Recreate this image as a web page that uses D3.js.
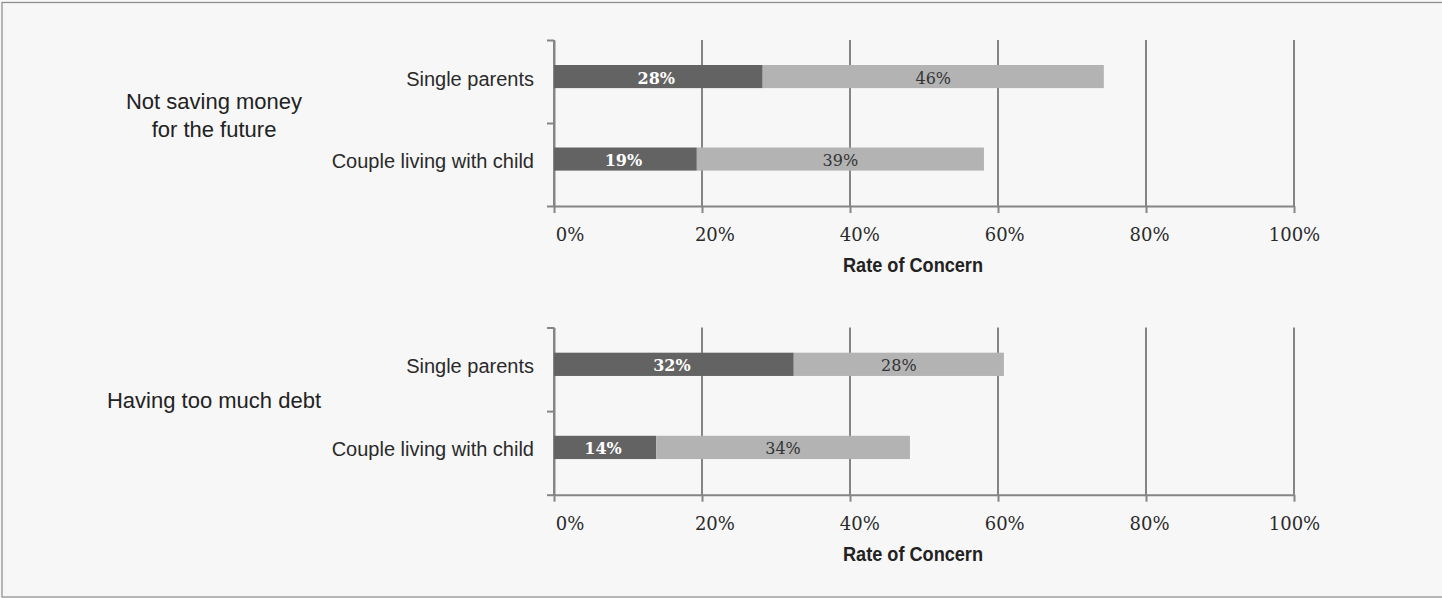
<!DOCTYPE html>
<html><head><meta charset="utf-8">
<script src="https://cdn.jsdelivr.net/npm/d3@7"></script>
<style>body{margin:0;background:#f7f7f7} svg{display:block}</style>
</head><body><svg id="c" width="1442" height="598"></svg>
<script>
// ---- data ----
const groupLabels = [["Not saving money", "for the future"], ["Having too much debt"]];
const categories = ["Single parents", "Couple living with child"];
const darkValues = [[28.2, 19.3], [32.4, 13.8]];   // dark segment per group/category
const lightValues = [[46.1, 38.8], [28.4, 34.3]];  // light segment per group/category
const xTicks = [0, 20, 40, 60, 80, 100];
const xTickLabels = ["0%", "20%", "40%", "60%", "80%", "100%"];
const axisTitle = "Rate of Concern";

// ---- drawing ----
const svg = d3.select("#c");
svg.append("rect").attr("x", 0).attr("y", 0).attr("width", 1442).attr("height", 598).attr("fill", "#f7f7f7");
svg.append("rect").attr("x", 2).attr("y", 2.5).attr("width", 1442).attr("height", 594.5)
  .attr("fill", "none").attr("stroke", "#8a8a8a").attr("stroke-width", 1.2);

const sans = "'Liberation Sans', Arial, sans-serif";
const serif = "'DejaVu Serif', serif";
const axisColor = "#858585";
const x = d3.scaleLinear().domain([0, 100]).range([554, 1294]);
const xLab = d3.scaleLinear().domain([0, 100]).range([570, 1294.5]);
const panels = [{top: 40, bottom: 206}, {top: 327.5, bottom: 494.7}];
const fmt = v => Math.round(v) + "%";

panels.forEach((p, gi) => {
  const g = svg.append("g");
  const y = d3.scaleBand().domain(categories).range([p.top, p.bottom])
    .paddingInner(0.72).paddingOuter(0.366).align(0.414);

  // vertical gridlines
  g.selectAll(".grid").data(xTicks).join("line").attr("class", "grid")
    .attr("x1", d => x(d)).attr("x2", d => x(d))
    .attr("y1", p.top).attr("y2", p.bottom)
    .attr("stroke", axisColor).attr("stroke-width", 2);

  // x axis
  const xa = g.append("g").attr("transform", `translate(0,${p.bottom})`)
    .call(d3.axisBottom(x).tickValues(xTicks).tickSize(7).tickSizeOuter(0).tickFormat(""));
  xa.selectAll("path,line").attr("stroke", axisColor).attr("stroke-width", 2);

  // y axis (boundaries)
  const yl = d3.scaleLinear().domain([0, categories.length]).range([p.top, p.bottom]);
  const ya = g.append("g").attr("transform", `translate(${x(0)},0)`)
    .call(d3.axisLeft(yl).tickValues(d3.range(categories.length + 1)).tickSize(7).tickSizeOuter(0).tickFormat(""));
  ya.selectAll("path,line").attr("stroke", axisColor).attr("stroke-width", 2);

  // tick labels
  g.selectAll(".tl").data(xTicks).join("text").attr("class", "tl")
    .attr("x", d => xLab(d)).attr("y", p.bottom + 35)
    .attr("text-anchor", "middle").attr("font-family", serif).attr("font-size", 18)
    .attr("fill", "#2a2a2a").text((d, i) => xTickLabels[i]);

  // axis title
  g.append("text").attr("x", 913).attr("y", p.bottom + 66)
    .attr("text-anchor", "middle").attr("font-family", "'Liberation Sans Narrow', " + sans)
    .attr("font-weight", "bold").attr("font-size", 21)
    .attr("textLength", 140).attr("lengthAdjust", "spacingAndGlyphs")
    .attr("fill", "#222").text(axisTitle);

  const rows = categories.map((c, i) => ({cat: c, dark: darkValues[gi][i], light: lightValues[gi][i]}));

  // bars
  g.selectAll(".bd").data(rows).join("rect").attr("class", "bd")
    .attr("x", x(0)).attr("y", d => y(d.cat))
    .attr("width", d => x(d.dark) - x(0)).attr("height", y.bandwidth())
    .attr("fill", "#636363");
  g.selectAll(".bl").data(rows).join("rect").attr("class", "bl")
    .attr("x", d => x(d.dark)).attr("y", d => y(d.cat))
    .attr("width", d => x(d.dark + d.light) - x(d.dark)).attr("height", y.bandwidth())
    .attr("fill", "#b3b3b3");

  // bar labels
  g.selectAll(".ld").data(rows).join("text").attr("class", "ld")
    .attr("x", d => (x(0) + x(d.dark)) / 2 - 2).attr("y", d => y(d.cat) + y.bandwidth() / 2 + 7)
    .attr("text-anchor", "middle").attr("font-family", serif).attr("font-weight", "bold")
    .attr("font-size", 16).attr("fill", "#ffffff").text(d => fmt(d.dark));
  g.selectAll(".ll").data(rows).join("text").attr("class", "ll")
    .attr("x", d => (x(d.dark) + x(d.dark + d.light)) / 2).attr("y", d => y(d.cat) + y.bandwidth() / 2 + 7)
    .attr("text-anchor", "middle").attr("font-family", serif)
    .attr("font-size", 16).attr("fill", "#333").text(d => fmt(d.light));

  // category labels
  g.selectAll(".cl").data(rows).join("text").attr("class", "cl")
    .attr("x", 534).attr("y", d => y(d.cat) + y.bandwidth() / 2 + 9)
    .attr("text-anchor", "end").attr("font-family", sans).attr("font-size", 20)
    .attr("fill", "#2a2a2a").text(d => d.cat);

  // group label
  const lines = groupLabels[gi];
  const mid = (p.top + p.bottom) / 2 + (lines.length === 1 ? -3 : 0);
  g.selectAll(".gl").data(lines).join("text").attr("class", "gl")
    .attr("x", 214).attr("y", (d, i) => mid + (i - (lines.length - 1) / 2) * 27.5)
    .attr("text-anchor", "middle").attr("font-family", sans).attr("font-size", 22)
    .attr("fill", "#222").text(d => d);
});
</script>
</body></html>
